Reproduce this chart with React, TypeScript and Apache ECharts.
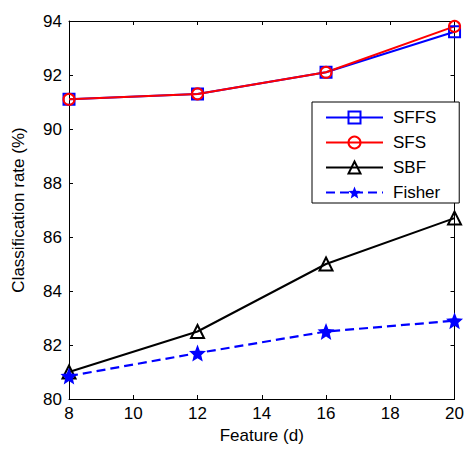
import React, { useEffect, useRef } from "react";
import * as echarts from "echarts";

const features = [8, 12, 16, 20];
const sffs = [91.1, 91.3, 92.1, 93.6];
const sfs = [91.1, 91.3, 92.1, 93.8];
const sbf = [81.0, 82.5, 85.0, 86.7];
const fisher = [80.85, 81.7, 82.5, 82.9];

function starPath(): string {
  const pts: string[] = [];
  for (let i = 0; i < 10; i++) {
    const r = i % 2 === 0 ? 50 : 22;
    const a = -Math.PI / 2 + (i * Math.PI) / 5;
    pts.push(`${(50 + r * Math.cos(a)).toFixed(2)} ${(50 + r * Math.sin(a)).toFixed(2)}`);
  }
  return "path://M" + pts.join(" L") + " Z";
}

const pair = (vals: number[]) => features.map((f, i) => [f, vals[i]]);

export default function App() {
  const ref = useRef<HTMLDivElement>(null);
  useEffect(() => {
    document.body.style.margin = "0";
    const chart = echarts.init(ref.current!, null, { renderer: "svg" });
    const font = "Liberation Sans";
    const clear = "rgba(0,0,0,0)";
    const axisBase = {
      type: "value" as const,
      axisLine: { show: true, lineStyle: { color: "#000", width: 1 } },
      axisTick: { show: true, inside: true, length: 4, lineStyle: { color: "#000" } },
      splitLine: { show: false },
    };
    chart.setOption({
      animation: false,
      backgroundColor: "#fff",
      textStyle: { fontFamily: font },
      grid: { left: 69, right: 11, top: 21, bottom: 47 },
      legend: {
        orient: "vertical",
        left: 312,
        top: 102,
        padding: [7, 19, 2, 13],
        itemGap: 8,
        itemWidth: 57,
        itemHeight: 15,
        borderColor: "#000",
        borderWidth: 1,
        backgroundColor: "#fff",
        textStyle: { fontFamily: font, fontSize: 17, color: "#000", padding: [0, 0, 0, 5] },
        data: ["SFFS", "SFS", "SBF", "Fisher"],
      },
      xAxis: [
        {
          ...axisBase,
          min: 8,
          max: 20,
          interval: 2,
          name: "Feature (d)",
          nameLocation: "middle",
          nameGap: 28,
          nameTextStyle: { fontFamily: font, fontSize: 17, color: "#000" },
          axisLabel: { color: "#000", fontSize: 17, fontFamily: font, margin: 6 },
        },
        {
          ...axisBase,
          position: "top",
          min: 8,
          max: 20,
          interval: 2,
          axisLabel: { show: false },
        },
      ],
      yAxis: [
        {
          ...axisBase,
          min: 80,
          max: 94,
          interval: 2,
          name: "Classification rate (%)",
          nameLocation: "middle",
          nameGap: 42,
          nameTextStyle: { fontFamily: font, fontSize: 17, color: "#000" },
          axisLabel: { color: "#000", fontSize: 17, fontFamily: font, margin: 7 },
        },
        {
          ...axisBase,
          position: "right",
          min: 80,
          max: 94,
          interval: 2,
          axisLabel: { show: false },
        },
      ],
      series: [
        {
          name: "SFFS",
          type: "line",
          data: pair(sffs),
          symbol: "rect",
          symbolSize: 11,
          color: "#0000ff",
          lineStyle: { color: "#0000ff", width: 2 },
          itemStyle: { color: clear, borderColor: "#0000ff", borderWidth: 2 },
        },
        {
          name: "SFS",
          type: "line",
          data: pair(sfs),
          symbol: "circle",
          symbolSize: 11,
          color: "#ff0000",
          lineStyle: { color: "#ff0000", width: 2 },
          itemStyle: { color: clear, borderColor: "#ff0000", borderWidth: 2 },
        },
        {
          name: "SBF",
          type: "line",
          data: pair(sbf),
          symbol: "triangle",
          symbolSize: 13,
          color: "#000",
          lineStyle: { color: "#000", width: 2 },
          itemStyle: { color: clear, borderColor: "#000", borderWidth: 2 },
        },
        {
          name: "Fisher",
          type: "line",
          data: pair(fisher),
          symbol: starPath(),
          symbolSize: 17,
          color: "#0000ff",
          lineStyle: { color: "#0000ff", width: 2.2, type: [9, 5] },
          itemStyle: { color: "#0000ff", borderColor: "#0000ff", borderWidth: 0 },
        },
      ],
    });
    return () => chart.dispose();
  }, []);
  return <div ref={ref} style={{ width: 467, height: 449 }} />;
}
